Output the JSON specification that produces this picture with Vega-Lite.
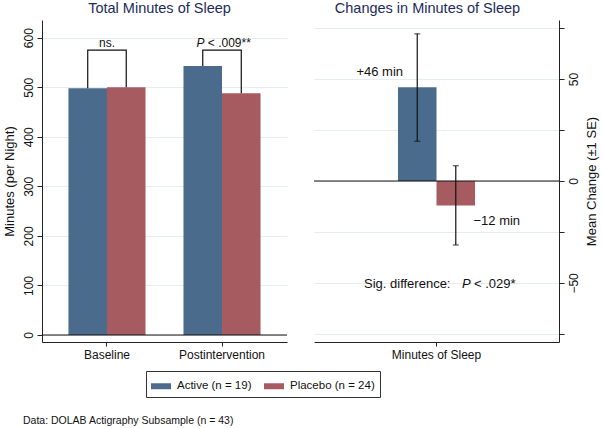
{
  "$schema": "https://vega.github.io/schema/vega-lite/v6.json",
  "background": "white",
  "padding": {"left": 3, "top": 0, "right": 2, "bottom": 0},
  "config": {
    "font": "Liberation Sans",
    "view": {"stroke": null},
    "axis": {
      "domainColor": "#222222", "tickColor": "#222222", "labelColor": "#111111", "titleColor": "#111111",
      "labelFont": "Liberation Sans", "titleFont": "Liberation Sans", "titleFontWeight": "normal",
      "labelFontSize": 12, "titleFontSize": 13, "gridColor": "#e5edf0", "labelFlush": false, "labelOverlap": false
    },
    "title": {"font": "Liberation Sans", "fontWeight": "normal", "color": "#1c2b5a", "fontSize": 14.5}
  },
  "datasets": {
    "totals": [
      {"time": "Baseline", "group": "Active (n = 19)", "minutes": 498},
      {"time": "Baseline", "group": "Placebo (n = 24)", "minutes": 500},
      {"time": "Postintervention", "group": "Active (n = 19)", "minutes": 543},
      {"time": "Postintervention", "group": "Placebo (n = 24)", "minutes": 488}
    ],
    "brackets": [
      {"time": "Baseline", "group": "Active (n = 19)", "y": 498, "seq": 1},
      {"time": "Baseline", "group": "Active (n = 19)", "y": 575, "seq": 2},
      {"time": "Baseline", "group": "Placebo (n = 24)", "y": 575, "seq": 3},
      {"time": "Baseline", "group": "Placebo (n = 24)", "y": 500, "seq": 4},
      {"time": "Postintervention", "group": "Active (n = 19)", "y": 543, "seq": 1},
      {"time": "Postintervention", "group": "Active (n = 19)", "y": 575, "seq": 2},
      {"time": "Postintervention", "group": "Placebo (n = 24)", "y": 575, "seq": 3},
      {"time": "Postintervention", "group": "Placebo (n = 24)", "y": 488, "seq": 4}
    ],
    "changes": [
      {"cat": "Minutes of Sleep", "group": "Active (n = 19)", "change": 46, "lo": 19.5, "hi": 72.2},
      {"cat": "Minutes of Sleep", "group": "Placebo (n = 24)", "change": -12, "lo": -31.4, "hi": 7.5}
    ]
  },
  "title": {
    "text": "Data: DOLAB Actigraphy Subsample (n = 43)", "orient": "bottom", "anchor": "start", "frame": "bounds",
    "fontSize": 10.5, "color": "#111111", "fontWeight": "normal", "offset": 18, "dx": 20
  },
  "spacing": 25,
  "resolve": {"scale": {"color": "shared"}},
  "hconcat": [
    {
      "width": 245, "height": 322,
      "title": {"text": "Total Minutes of Sleep", "dx": -5, "offset": 4},
      "layer": [
        {
          "data": {"name": "totals"},
          "mark": {"type": "bar"},
          "encoding": {
            "x": {"field": "time", "type": "nominal", "sort": ["Baseline", "Postintervention"],
              "scale": {"paddingInner": 0.33, "paddingOuter": 0.23},
              "axis": {"title": null, "labelAngle": 0, "tickSize": 4, "labelPadding": 3, "grid": false}},
            "xOffset": {"field": "group", "type": "nominal", "sort": ["Active (n = 19)", "Placebo (n = 24)"],
              "scale": {"paddingInner": 0, "paddingOuter": 0}},
            "y": {"field": "minutes", "type": "quantitative",
              "scale": {"domain": [-14.1, 635.7], "nice": false, "zero": false},
              "axis": {"title": "Minutes (per Night)",
                "values": [0, 50, 100, 150, 200, 250, 300, 350, 400, 450, 500, 550, 600, 625],
                "labelExpr": "datum.value % 100 == 0 ? datum.label : ''",
                "labelAngle": -90, "labelAlign": "center", "labelBaseline": "bottom", "labelPadding": 2,
                "tickSize": 5, "grid": true,
                "gridColor": {"condition": {"test": "datum.value % 100 == 0", "value": "#e5edf0"}, "value": "transparent"},
                "titlePadding": 6}},
            "color": {"field": "group", "type": "nominal",
              "scale": {"domain": ["Active (n = 19)", "Placebo (n = 24)"], "range": ["#4a6b8c", "#a65b60"]},
              "legend": {"title": null, "orient": "none", "legendX": 104, "legendY": 351, "direction": "horizontal",
                "symbolType": "M-1,-0.3H1V0.3H-1Z", "symbolSize": 400, "symbolStrokeWidth": 0, "symbolOpacity": 1,
                "labelFontSize": 11.5, "labelFont": "Liberation Sans", "labelColor": "#111111",
                "strokeColor": "#333333", "padding": 5, "labelOffset": 6, "columnPadding": 12}}
          }
        },
        {
          "data": {"values": [{"ref": 0}]},
          "mark": {"type": "rule", "color": "#111111", "strokeWidth": 1},
          "encoding": {"y": {"field": "ref", "type": "quantitative"}}
        },
        {
          "data": {"name": "brackets"},
          "mark": {"type": "line", "color": "#111111", "strokeWidth": 1.2},
          "encoding": {
            "x": {"field": "time", "type": "nominal", "sort": ["Baseline", "Postintervention"]},
            "xOffset": {"field": "group", "type": "nominal", "sort": ["Active (n = 19)", "Placebo (n = 24)"]},
            "y": {"field": "y", "type": "quantitative"},
            "detail": {"field": "time"},
            "order": {"field": "seq", "type": "quantitative"}
          }
        },
        {
          "data": {"values": [{"time": "Baseline", "label": "ns.", "ly": 582}]},
          "mark": {"type": "text", "fontSize": 12, "align": "center", "baseline": "alphabetic", "color": "#111111"},
          "encoding": {
            "x": {"field": "time", "type": "nominal", "sort": ["Baseline", "Postintervention"]},
            "y": {"field": "ly", "type": "quantitative"},
            "text": {"field": "label"}
          }
        },
        {
          "data": {"values": [{"time": "Postintervention", "label": "P", "ly": 582}]},
          "mark": {"type": "text", "fontSize": 12, "align": "left", "baseline": "alphabetic", "fontStyle": "italic", "dx": -25.5, "color": "#111111"},
          "encoding": {
            "x": {"field": "time", "type": "nominal", "sort": ["Baseline", "Postintervention"]},
            "y": {"field": "ly", "type": "quantitative"},
            "text": {"field": "label"}
          }
        },
        {
          "data": {"values": [{"time": "Postintervention", "label": "< .009**", "ly": 582}]},
          "mark": {"type": "text", "fontSize": 12, "align": "left", "baseline": "alphabetic", "dx": -14.2, "color": "#111111"},
          "encoding": {
            "x": {"field": "time", "type": "nominal", "sort": ["Baseline", "Postintervention"]},
            "y": {"field": "ly", "type": "quantitative"},
            "text": {"field": "label"}
          }
        }
      ]
    },
    {
      "width": 245, "height": 322,
      "title": {"text": "Changes in Minutes of Sleep", "dx": -9, "offset": 4},
      "layer": [
        {
          "data": {"name": "changes"},
          "mark": {"type": "bar"},
          "encoding": {
            "x": {"field": "cat", "type": "nominal",
              "scale": {"paddingInner": 0.5, "paddingOuter": 0.545},
              "axis": {"title": null, "labelAngle": 0, "tickSize": 4, "labelPadding": 3, "grid": false}},
            "xOffset": {"field": "group", "type": "nominal", "sort": ["Active (n = 19)", "Placebo (n = 24)"],
              "scale": {"paddingInner": 0, "paddingOuter": 0}},
            "y": {"field": "change", "type": "quantitative",
              "scale": {"domain": [-79, 79], "nice": false, "zero": false},
              "axis": {"orient": "right", "title": "Mean Change (±1 SE)",
                "values": [-75, -62.5, -50, -37.5, -25, -12.5, 0, 12.5, 25, 37.5, 50, 62.5, 75],
                "labelExpr": "datum.value % 50 == 0 ? replace(datum.label, '-', '−') : ''",
                "labelAngle": -90, "labelAlign": "center", "labelBaseline": "top", "labelPadding": 4,
                "tickSize": 5, "grid": true,
                "gridColor": {"condition": {"test": "datum.value % 25 == 0", "value": "#e5edf0"}, "value": "transparent"},
                "titleAngle": -90, "titleBaseline": "top", "titlePadding": 6}},
            "color": {"field": "group", "type": "nominal"}
          }
        },
        {
          "data": {"values": [{"ref": 0}]},
          "mark": {"type": "rule", "color": "#111111", "strokeWidth": 1},
          "encoding": {"y": {"field": "ref", "type": "quantitative"}}
        },
        {
          "data": {"name": "changes"},
          "mark": {"type": "rule", "color": "#111111", "strokeWidth": 1.2},
          "encoding": {
            "x": {"field": "cat", "type": "nominal"},
            "xOffset": {"field": "group", "type": "nominal", "sort": ["Active (n = 19)", "Placebo (n = 24)"]},
            "y": {"field": "lo", "type": "quantitative"},
            "y2": {"field": "hi"}
          }
        },
        {
          "data": {"name": "changes"},
          "mark": {"type": "tick", "color": "#111111", "size": 6, "thickness": 1.2, "orient": "horizontal"},
          "encoding": {
            "x": {"field": "cat", "type": "nominal"},
            "xOffset": {"field": "group", "type": "nominal", "sort": ["Active (n = 19)", "Placebo (n = 24)"]},
            "y": {"field": "lo", "type": "quantitative"}
          }
        },
        {
          "data": {"name": "changes"},
          "mark": {"type": "tick", "color": "#111111", "size": 6, "thickness": 1.2, "orient": "horizontal"},
          "encoding": {
            "x": {"field": "cat", "type": "nominal"},
            "xOffset": {"field": "group", "type": "nominal", "sort": ["Active (n = 19)", "Placebo (n = 24)"]},
            "y": {"field": "hi", "type": "quantitative"}
          }
        },
        {
          "data": {"values": [{"cat": "Minutes of Sleep", "group": "Active (n = 19)", "label": "+46 min", "ly": 51.7}]},
          "mark": {"type": "text", "fontSize": 13, "align": "center", "baseline": "alphabetic", "dx": -37.5, "color": "#111111"},
          "encoding": {
            "x": {"field": "cat", "type": "nominal"},
            "xOffset": {"field": "group", "type": "nominal", "sort": ["Active (n = 19)", "Placebo (n = 24)"]},
            "y": {"field": "ly", "type": "quantitative"},
            "text": {"field": "label"}
          }
        },
        {
          "data": {"values": [{"cat": "Minutes of Sleep", "group": "Placebo (n = 24)", "label": "−12 min", "ly": -21.5}]},
          "mark": {"type": "text", "fontSize": 13, "align": "center", "baseline": "alphabetic", "dx": 41, "color": "#111111"},
          "encoding": {
            "x": {"field": "cat", "type": "nominal"},
            "xOffset": {"field": "group", "type": "nominal", "sort": ["Active (n = 19)", "Placebo (n = 24)"]},
            "y": {"field": "ly", "type": "quantitative"},
            "text": {"field": "label"}
          }
        },
        {
          "data": {"values": [{"cat": "Minutes of Sleep", "label": "Sig. difference:", "ly": -52.5}]},
          "mark": {"type": "text", "fontSize": 13, "align": "left", "baseline": "alphabetic", "dx": -72.5, "color": "#111111"},
          "encoding": {
            "x": {"field": "cat", "type": "nominal"},
            "y": {"field": "ly", "type": "quantitative"},
            "text": {"field": "label"}
          }
        },
        {
          "data": {"values": [{"cat": "Minutes of Sleep", "label": "P", "ly": -52.5}]},
          "mark": {"type": "text", "fontSize": 13, "align": "left", "baseline": "alphabetic", "fontStyle": "italic", "dx": 25.5, "color": "#111111"},
          "encoding": {
            "x": {"field": "cat", "type": "nominal"},
            "y": {"field": "ly", "type": "quantitative"},
            "text": {"field": "label"}
          }
        },
        {
          "data": {"values": [{"cat": "Minutes of Sleep", "label": "< .029*", "ly": -52.5}]},
          "mark": {"type": "text", "fontSize": 13, "align": "left", "baseline": "alphabetic", "dx": 37.5, "color": "#111111"},
          "encoding": {
            "x": {"field": "cat", "type": "nominal"},
            "y": {"field": "ly", "type": "quantitative"},
            "text": {"field": "label"}
          }
        }
      ]
    }
  ]
}
